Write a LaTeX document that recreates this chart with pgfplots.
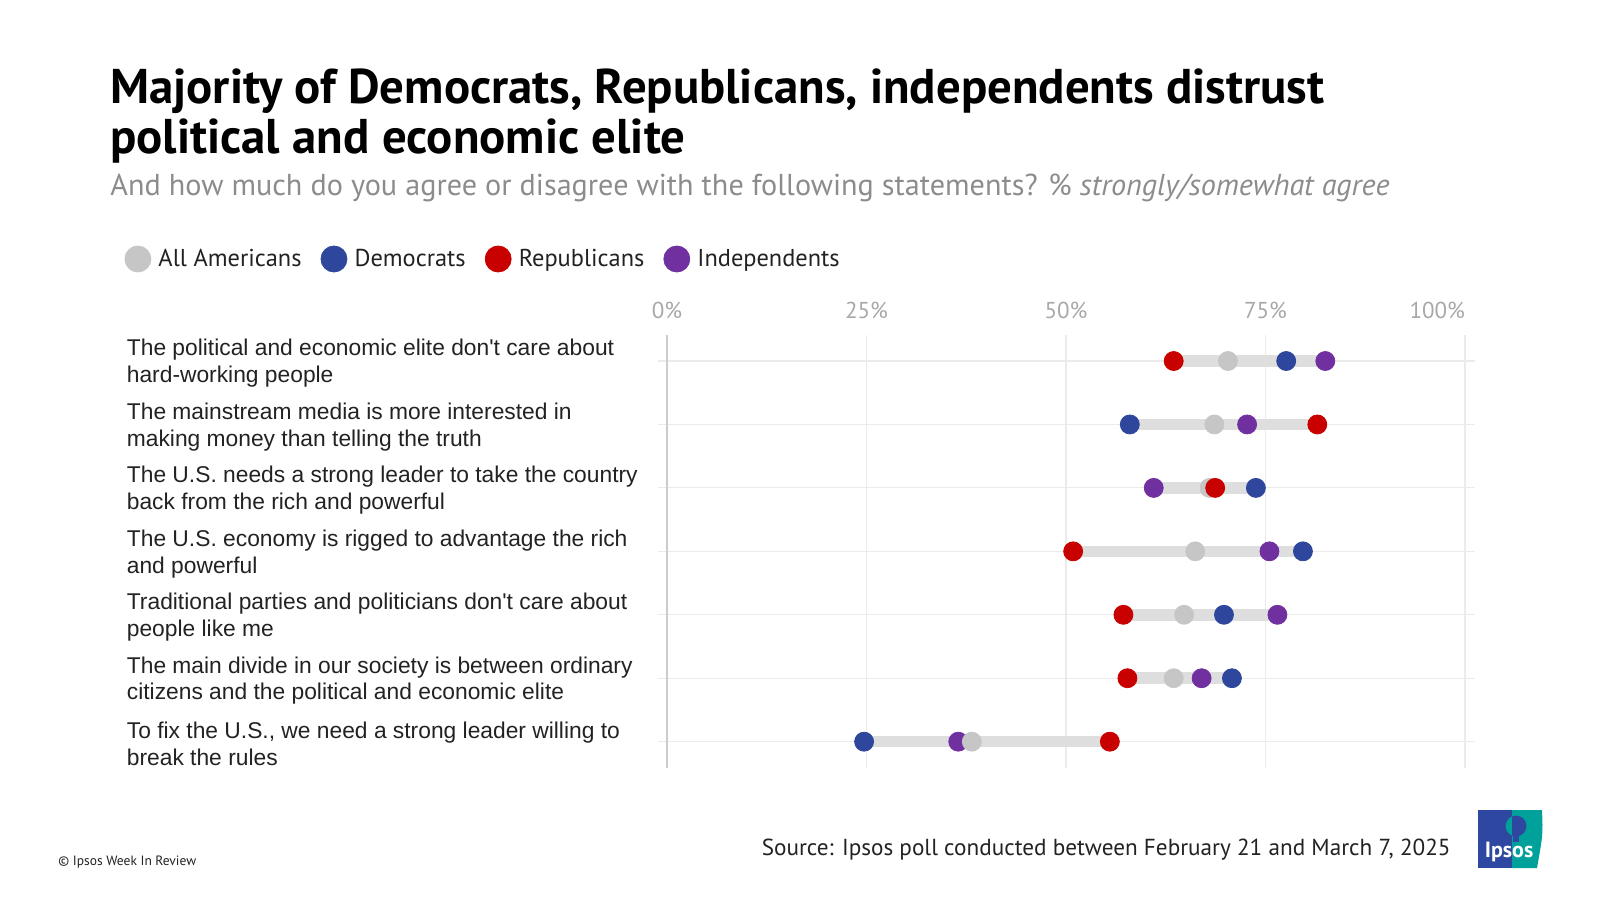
\documentclass[border=0pt]{standalone}
\usepackage{fontspec}
\setmainfont{Liberation Sans}
\newfontfamily\headfont{PT Sans}
\usepackage{pgfplots}
\pgfplotsset{compat=1.18}

\definecolor{allam}{HTML}{C6C6C6}
\definecolor{dem}{HTML}{2E479C}
\definecolor{rep}{HTML}{C80000}
\definecolor{ind}{HTML}{7030A0}
\definecolor{seg}{HTML}{DEDEDE}
\definecolor{gridc}{HTML}{EBEBEB}
\definecolor{tickc}{HTML}{A8A8A8}
\definecolor{subc}{HTML}{8C8C8C}
\definecolor{txt}{HTML}{222222}
\definecolor{ipsblue}{HTML}{2E47A0}
\definecolor{ipsteal}{HTML}{00A19A}

\begin{document}
\begin{tikzpicture}[x=1pt,y=1pt]
\useasboundingbox (0,0) rectangle (800,450);

% titles
\node[anchor=base west, inner sep=0pt, font=\headfont\bfseries\fontsize{24.4}{27}\selectfont]
  at (55,398.3) {Majority of Democrats, Republicans, independents distrust};
\node[anchor=base west, inner sep=0pt, font=\headfont\bfseries\fontsize{24.4}{27}\selectfont]
  at (55,373) {political and economic elite};
\node[anchor=base west, inner sep=0pt, text=subc, font=\headfont\fontsize{15.1}{17}\selectfont]
  at (55,352.2) {And how much do you agree or disagree with the following statements? \% \textit{strongly/somewhat agree}};

\begin{axis}[
    at={(329pt,66pt)}, anchor=south west,
    scale only axis, width=408.25pt, height=216.5pt,
    xmin=-1.13, xmax=101.2, ymin=0.585, ymax=7.41,
    axis line style={draw=none},
    tick style={draw=none},
    xtick={0,25,50,75,100},
    xticklabels={0\%,25\%,50\%,75\%,\makebox[0pt][r]{100\%}},
    xticklabel pos=upper,
    xticklabel style={anchor=base, yshift=8pt, text=tickc, font=\headfont\fontsize{11.5}{13}\selectfont},
    ytick={1,2,3,4,5,6,7},
    yticklabels={
      {To fix the U.S., we need a strong leader willing to\\break the rules},
      {The main divide in our society is between ordinary\\citizens and the political and economic elite},
      {Traditional parties and politicians don\textquotesingle t care about\\people like me},
      {The U.S. economy is rigged to advantage the rich\\and powerful},
      {The U.S. needs a strong leader to take the country\\back from the rich and powerful},
      {The mainstream media is more interested in\\making money than telling the truth},
      {The political and economic elite don\textquotesingle t care about\\hard-working people}},
    yticklabel style={anchor=west, align=left, xshift=-265.75pt, yshift=-1.2pt, inner sep=0pt, text=txt,
      font=\fontsize{11.4}{13.4}\selectfont},
    xmajorgrids, ymajorgrids,
    major grid style={draw=gridc, line width=0.6pt},
    extra x ticks={0}, extra x tick labels={},
    extra x tick style={major grid style={draw=black!20, line width=1pt}},
    legend style={at={(-0.6534,1.1755)}, anchor=west, draw=none, fill=none,
      legend columns=-1, inner sep=0pt, outer sep=0pt,
      font=\headfont\fontsize{12.2}{14}\selectfont, text=txt,
      /tikz/every odd column/.append style={column sep=1.6pt},
      /tikz/every even column/.append style={column sep=7.5pt}},
  ]

  % range bars
  \addplot[seg, line width=5.8pt, unbounded coords=jump, forget plot] coordinates {
    (25,1) (55.5,1) (nan,1)
    (57.5,2) (71,2) (nan,2)
    (57,3) (76.5,3) (nan,3)
    (51,4) (80,4) (nan,4)
    (61,5) (74,5) (nan,5)
    (58,6) (81.5,6) (nan,6)
    (63.5,7) (82.5,7)
  };

  % Independents
  \addplot[only marks, mark=*, mark size=4.75pt, color=ind, mark options={draw=none}, forget plot] coordinates {
    (36.5,1) (67,2) (76.5,3) (75.5,4) (61,5) (72.7,6) (82.5,7)
  };
  % All Americans
  \addplot[only marks, mark=*, mark size=4.75pt, color=allam, mark options={draw=none}, forget plot] coordinates {
    (38.2,1) (63.5,2) (64.8,3) (66.2,4) (68,5) (68.6,6) (70.3,7)
  };
  % Democrats
  \addplot[only marks, mark=*, mark size=4.75pt, color=dem, mark options={draw=none}, forget plot] coordinates {
    (24.7,1) (70.8,2) (69.8,3) (79.7,4) (73.8,5) (58,6) (77.6,7)
  };
  % Republicans
  \addplot[only marks, mark=*, mark size=4.75pt, color=rep, mark options={draw=none}, forget plot] coordinates {
    (55.5,1) (57.7,2) (57.2,3) (50.9,4) (68.7,5) (81.5,6) (63.5,7)
  };

  \addlegendimage{legend image code/.code={\fill[allam] (0pt,0pt) circle (6.5pt);}}
  \addlegendentry{All Americans}
  \addlegendimage{legend image code/.code={\fill[dem] (0pt,0pt) circle (6.5pt);}}
  \addlegendentry{Democrats}
  \addlegendimage{legend image code/.code={\fill[rep] (0pt,0pt) circle (6.5pt);}}
  \addlegendentry{Republicans}
  \addlegendimage{legend image code/.code={\fill[ind] (0pt,0pt) circle (6.5pt);}}
  \addlegendentry{Independents}
\end{axis}

% footer
\node[anchor=base east, inner sep=0pt, text=txt, font=\headfont\fontsize{11.6}{14}\selectfont]
  at (725.5,22.5) {Source: Ipsos poll conducted between February 21 and March 7, 2025};
\node[anchor=base west, inner sep=0pt, text=txt, font=\headfont\fontsize{6.75}{8}\selectfont]
  at (29,17.5) {\textcopyright{} Ipsos Week In Review};

% logo
\fill[ipsblue] (739,16) rectangle (757,45);
\fill[ipsteal] (756,16) -- (756,45) -- (771,45) .. controls (771.5,33) .. (768.5,16) -- cycle;
\begin{scope}
  \clip (739,16) rectangle (756,45);
  \fill[ipsteal] (758,37) circle (5.2pt);
  \fill[ipsteal] (756.5,29) rectangle (759.5,33);
\end{scope}
\begin{scope}
  \clip (756,16) rectangle (772,45);
  \fill[ipsblue] (758,37) circle (5.2pt);
  \fill[ipsblue] (756.5,29) rectangle (759.5,33);
\end{scope}
\node[anchor=base, inner sep=0pt, text=white, font=\headfont\bfseries\fontsize{11}{12}\selectfont]
  at (754.5,21.5) {Ipsos};
\end{tikzpicture}
\end{document}
